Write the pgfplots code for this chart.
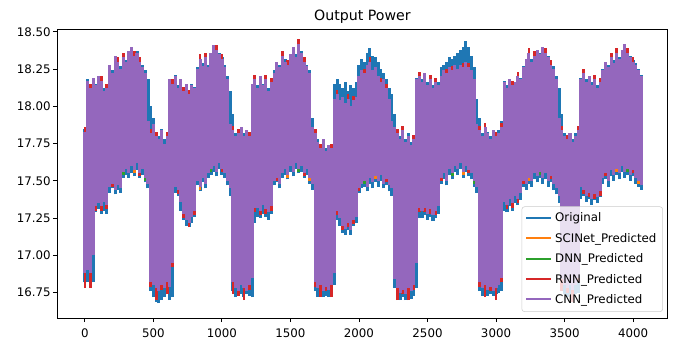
\documentclass[border=0pt]{standalone}
\usepackage{fontspec}
\setmainfont{DejaVu Sans}
\usepackage{pgfplots}
\usepackage{pgfplotstable}
\pgfplotsset{compat=1.18}
\definecolor{c0}{HTML}{1F77B4}
\definecolor{c1}{HTML}{FF7F0E}
\definecolor{c2}{HTML}{2CA02C}
\definecolor{c3}{HTML}{D62728}
\definecolor{c4}{HTML}{9467BD}
\definecolor{lgframe}{HTML}{CCCCCC}
% Original (oL,oU) and CNN (cL,cU): lower/upper envelope of the dense series
\pgfplotstableread{
x oL oU cL cU
0 16.82 17.85 16.88 17.83
20 16.82 18.18 16.90 18.17
40 16.79 18.14 16.88 18.12
60 16.82 18.18 17.00 18.19
80 17.29 18.15 17.33 18.14
100 17.31 18.19 17.35 18.20
120 17.28 18.18 17.33 18.17
140 17.30 18.12 17.36 18.10
160 17.28 18.13 17.34 18.12
180 17.42 18.27 17.46 18.28
200 17.45 18.24 17.48 18.22
220 17.41 18.33 17.44 18.34
240 17.44 18.31 17.47 18.30
260 17.42 18.27 17.45 18.25
280 17.52 18.32 17.56 18.33
300 17.54 18.31 17.58 18.30
320 17.52 18.36 17.55 18.37
340 17.55 18.39 17.60 18.40
360 17.53 18.36 17.57 18.34
380 17.57 18.37 17.62 18.36
400 17.52 18.33 17.55 18.30
420 17.54 18.28 17.58 18.26
440 17.49 18.24 17.52 18.22
460 17.45 18.18 17.48 17.90
480 16.76 18.00 16.82 17.82
500 16.72 17.92 16.80 17.88
520 16.69 17.82 16.78 17.80
540 16.68 17.80 16.76 17.78
560 16.70 17.85 16.80 17.84
580 16.72 17.78 16.78 17.75
600 16.74 17.82 16.82 17.80
620 16.70 18.17 16.79 18.18
640 16.72 18.16 16.95 18.15
660 17.42 18.21 17.46 18.20
680 17.40 18.14 17.44 18.12
700 17.30 18.17 17.36 18.18
720 17.24 18.12 17.28 18.10
740 17.20 18.14 17.24 18.15
760 17.19 18.10 17.22 18.08
780 17.22 18.15 17.26 18.14
800 17.26 18.13 17.30 18.12
820 17.47 18.26 17.50 18.25
840 17.43 18.31 17.46 18.32
860 17.49 18.29 17.52 18.27
880 17.45 18.32 17.48 18.33
900 17.52 18.28 17.55 18.26
920 17.54 18.35 17.58 18.36
940 17.56 18.40 17.60 18.41
960 17.53 18.37 17.56 18.38
980 17.58 18.36 17.62 18.35
1000 17.54 18.33 17.58 18.32
1020 17.52 18.28 17.55 18.26
1040 17.47 18.20 17.50 18.18
1060 17.40 18.10 17.45 17.88
1080 16.76 17.95 16.82 17.84
1100 16.72 17.82 16.78 17.80
1120 16.73 17.81 16.76 17.82
1140 16.74 17.85 16.80 17.86
1160 16.72 17.82 16.78 17.80
1180 16.74 17.83 16.76 17.84
1200 16.73 17.82 16.80 17.80
1220 16.72 18.14 16.85 18.15
1240 17.22 18.19 17.32 18.18
1260 17.26 18.14 17.32 18.12
1280 17.25 18.19 17.30 18.20
1300 17.28 18.15 17.34 18.14
1320 17.26 18.17 17.31 18.18
1340 17.24 18.12 17.29 18.10
1360 17.28 18.15 17.33 18.16
1380 17.47 18.24 17.50 18.22
1400 17.49 18.29 17.52 18.30
1420 17.45 18.28 17.48 18.26
1440 17.52 18.33 17.55 18.34
1460 17.54 18.32 17.58 18.30
1480 17.51 18.29 17.54 18.28
1500 17.56 18.34 17.60 18.35
1520 17.53 18.39 17.56 18.40
1540 17.58 18.35 17.62 18.33
1560 17.55 18.41 17.58 18.42
1580 17.56 18.37 17.60 18.36
1600 17.52 18.32 17.55 18.30
1620 17.54 18.28 17.58 18.27
1640 17.48 18.24 17.52 18.22
1660 17.44 17.92 17.48 17.86
1680 16.76 17.84 16.82 17.82
1700 16.72 17.78 16.78 17.76
1720 16.74 17.74 16.80 17.72
1740 16.72 17.77 16.76 17.78
1760 16.73 17.72 16.79 17.70
1780 16.72 17.73 16.77 17.74
1800 16.74 17.75 16.80 17.72
1820 16.80 18.15 16.88 18.05
1840 17.24 18.18 17.30 18.08
1860 17.20 18.15 17.25 18.04
1880 17.15 18.12 17.20 18.06
1900 17.14 18.16 17.18 18.02
1920 17.17 18.10 17.22 18.05
1940 17.14 18.14 17.17 18.00
1960 17.20 18.12 17.24 18.04
1980 17.22 18.16 17.26 18.06
2000 17.42 18.28 17.45 18.20
2020 17.45 18.32 17.48 18.24
2040 17.46 18.30 17.50 18.22
2060 17.43 18.36 17.46 18.28
2080 17.48 18.39 17.52 18.30
2100 17.45 18.34 17.49 18.24
2120 17.49 18.33 17.53 18.26
2140 17.46 18.30 17.50 18.20
2160 17.50 18.25 17.54 18.16
2180 17.45 18.22 17.48 18.18
2200 17.47 18.18 17.51 18.12
2220 17.43 18.12 17.47 18.05
2240 17.40 18.08 17.45 17.90
2260 16.78 17.95 16.84 17.86
2280 16.72 17.84 16.78 17.82
2300 16.70 17.80 16.75 17.78
2320 16.72 17.83 16.77 17.84
2340 16.70 17.78 16.74 17.76
2360 16.72 17.82 16.78 17.80
2380 16.71 17.76 16.76 17.74
2400 16.73 17.80 16.80 17.78
2420 16.78 18.19 16.95 18.18
2440 17.25 18.21 17.32 18.20
2460 17.25 18.18 17.30 18.16
2480 17.27 18.21 17.32 18.22
2500 17.24 18.16 17.28 18.14
2520 17.26 18.19 17.31 18.18
2540 17.23 18.14 17.27 18.12
2560 17.25 18.17 17.30 18.16
2580 17.28 18.16 17.33 18.14
2600 17.48 18.26 17.52 18.20
2620 17.51 18.28 17.55 18.24
2640 17.47 18.30 17.50 18.22
2660 17.54 18.33 17.58 18.26
2680 17.51 18.32 17.55 18.24
2700 17.56 18.34 17.60 18.28
2720 17.54 18.36 17.58 18.25
2740 17.58 18.38 17.62 18.28
2760 17.52 18.40 17.56 18.26
2780 17.56 18.44 17.60 18.30
2800 17.53 18.40 17.57 18.26
2820 17.51 18.34 17.55 18.24
2840 17.46 18.26 17.50 18.18
2860 17.42 18.05 17.46 17.88
2880 16.76 17.92 16.82 17.84
2900 16.73 17.82 16.78 17.80
2920 16.74 17.85 16.80 17.86
2940 16.73 17.83 16.77 17.82
2960 16.74 17.80 16.79 17.78
2980 16.73 17.83 16.76 17.84
3000 16.74 17.82 16.78 17.80
3020 16.75 17.84 16.80 17.82
3040 16.76 17.90 16.85 17.86
3060 17.30 18.17 17.36 18.16
3080 17.29 18.14 17.34 18.12
3100 17.33 18.17 17.38 18.18
3120 17.30 18.16 17.35 18.14
3140 17.35 18.15 17.40 18.16
3160 17.34 18.19 17.38 18.20
3180 17.37 18.19 17.42 18.18
3200 17.46 18.27 17.50 18.26
3220 17.44 18.31 17.48 18.32
3240 17.48 18.35 17.52 18.36
3260 17.46 18.32 17.50 18.30
3280 17.51 18.33 17.55 18.34
3300 17.49 18.37 17.53 18.38
3320 17.52 18.36 17.56 18.35
3340 17.48 18.39 17.52 18.40
3360 17.51 18.37 17.55 18.36
3380 17.46 18.34 17.50 18.33
3400 17.49 18.30 17.53 18.28
3420 17.44 18.27 17.48 18.25
3440 17.41 18.20 17.45 18.18
3460 17.35 18.12 17.40 17.92
3480 16.77 17.95 16.84 17.84
3500 16.74 17.82 16.80 17.80
3520 16.72 17.80 16.78 17.78
3540 16.74 17.81 16.80 17.82
3560 16.72 17.78 16.77 17.76
3580 16.74 17.82 16.80 17.80
3600 16.75 17.86 16.85 17.84
3620 17.38 18.19 17.46 18.18
3640 17.40 18.21 17.44 18.22
3660 17.36 18.18 17.40 18.16
3680 17.38 18.19 17.42 18.20
3700 17.34 18.16 17.38 18.14
3720 17.37 18.17 17.41 18.18
3740 17.35 18.14 17.39 18.12
3760 17.39 18.15 17.43 18.16
3780 17.48 18.25 17.52 18.24
3800 17.51 18.29 17.55 18.30
3820 17.46 18.28 17.50 18.26
3840 17.53 18.32 17.57 18.33
3860 17.50 18.31 17.54 18.29
3880 17.54 18.35 17.58 18.36
3900 17.51 18.33 17.55 18.32
3920 17.56 18.37 17.60 18.38
3940 17.52 18.41 17.56 18.42
3960 17.54 18.37 17.58 18.36
3980 17.50 18.34 17.54 18.33
4000 17.53 18.31 17.57 18.30
4020 17.48 18.29 17.52 18.28
4040 17.46 18.25 17.50 18.24
4060 17.44 18.21 17.47 18.20
}\tabA
% SCINet (sL,sU), DNN (dL,dU), RNN (rL,rU)
\pgfplotstableread{
x sL sU dL dU rL rU
0 16.90 17.79 16.89 17.78 16.78 17.86
40 16.86 18.08 16.89 18.07 16.78 18.15
80 17.35 18.10 17.34 18.09 17.30 18.12
120 17.35 18.13 17.31 18.12 17.30 18.20
160 17.36 18.08 17.35 18.07 17.31 18.15
200 17.46 18.18 17.49 18.17 17.46 18.20
240 17.49 18.26 17.48 18.25 17.49 18.33
280 17.58 18.29 17.54 18.28 17.58 18.36
320 17.57 18.33 17.56 18.32 17.57 18.35
360 17.55 18.30 17.58 18.29 17.59 18.37
400 17.57 18.26 17.56 18.25 17.53 18.33
440 17.54 18.18 17.50 18.17 17.54 18.20
480 16.84 17.78 16.83 17.77 16.79 17.85
520 16.76 17.76 16.79 17.75 16.70 17.83
560 16.82 17.80 16.81 17.79 16.77 17.82
600 16.84 17.76 16.80 17.75 16.74 17.83
640 16.97 18.11 16.96 18.10 16.92 18.18
680 17.42 18.08 17.45 18.07 17.41 18.10
720 17.30 18.06 17.29 18.05 17.25 18.13
760 17.24 18.04 17.20 18.03 17.19 18.11
800 17.32 18.08 17.31 18.07 17.27 18.10
840 17.44 18.28 17.47 18.27 17.48 18.35
880 17.50 18.29 17.49 18.28 17.50 18.36
920 17.60 18.32 17.56 18.31 17.60 18.34
960 17.58 18.34 17.57 18.33 17.58 18.41
1000 17.56 18.28 17.59 18.27 17.56 18.35
1040 17.52 18.14 17.51 18.13 17.52 18.16
1080 16.84 17.80 16.80 17.79 16.74 17.87
1120 16.78 17.78 16.77 17.77 16.73 17.85
1160 16.76 17.76 16.79 17.75 16.70 17.78
1200 16.82 17.76 16.81 17.75 16.77 17.83
1240 17.34 18.14 17.30 18.13 17.29 18.21
1280 17.32 18.16 17.31 18.15 17.27 18.18
1320 17.29 18.14 17.32 18.13 17.28 18.21
1360 17.35 18.12 17.34 18.11 17.30 18.19
1400 17.54 18.26 17.50 18.25 17.50 18.28
1440 17.57 18.30 17.56 18.29 17.57 18.37
1480 17.52 18.24 17.55 18.23 17.56 18.31
1520 17.58 18.36 17.57 18.35 17.58 18.38
1560 17.60 18.38 17.56 18.37 17.60 18.45
1600 17.57 18.26 17.56 18.25 17.53 18.33
1640 17.50 18.18 17.53 18.17 17.54 18.20
1680 16.84 17.78 16.83 17.77 16.79 17.85
1720 16.82 17.68 16.78 17.67 16.72 17.75
1760 16.81 17.66 16.80 17.65 16.76 17.68
1800 16.78 17.68 16.81 17.67 16.72 17.75
1840 17.32 18.04 17.31 18.03 17.27 18.11
1880 17.22 18.02 17.18 18.01 17.17 18.04
1920 17.24 18.01 17.23 18.00 17.19 18.08
1960 17.22 18.00 17.25 17.99 17.21 18.07
2000 17.47 18.16 17.46 18.15 17.43 18.18
2040 17.52 18.18 17.48 18.17 17.52 18.25
2080 17.54 18.26 17.53 18.25 17.54 18.33
2120 17.51 18.22 17.54 18.21 17.55 18.24
2160 17.56 18.12 17.55 18.11 17.56 18.19
2200 17.53 18.08 17.49 18.07 17.49 18.15
2240 17.47 17.86 17.46 17.85 17.47 17.88
2280 16.76 17.78 16.79 17.77 16.70 17.85
2320 16.79 17.80 16.78 17.79 16.74 17.87
2360 16.80 17.76 16.76 17.75 16.70 17.78
2400 16.82 17.74 16.81 17.73 16.77 17.81
2440 17.30 18.16 17.33 18.15 17.29 18.23
2480 17.34 18.18 17.33 18.17 17.29 18.20
2520 17.33 18.14 17.29 18.13 17.28 18.21
2560 17.32 18.12 17.31 18.11 17.27 18.19
2600 17.50 18.16 17.53 18.15 17.50 18.18
2640 17.52 18.18 17.51 18.17 17.52 18.25
2680 17.57 18.20 17.53 18.19 17.57 18.27
2720 17.60 18.21 17.59 18.20 17.60 18.23
2760 17.54 18.22 17.57 18.21 17.58 18.29
2800 17.59 18.22 17.58 18.21 17.55 18.29
2840 17.52 18.14 17.48 18.13 17.52 18.16
2880 16.84 17.80 16.83 17.79 16.79 17.87
2920 16.78 17.82 16.81 17.81 16.72 17.89
2960 16.81 17.74 16.80 17.73 16.76 17.76
3000 16.80 17.76 16.76 17.75 16.70 17.83
3040 16.87 17.82 16.86 17.81 16.82 17.89
3080 17.32 18.08 17.35 18.07 17.31 18.10
3120 17.37 18.10 17.36 18.09 17.32 18.17
3160 17.40 18.16 17.36 18.15 17.35 18.23
3200 17.52 18.22 17.51 18.21 17.48 18.24
3240 17.50 18.32 17.53 18.31 17.54 18.39
3280 17.57 18.30 17.56 18.29 17.57 18.37
3320 17.58 18.31 17.54 18.30 17.58 18.33
3360 17.57 18.32 17.56 18.31 17.57 18.39
3400 17.51 18.24 17.54 18.23 17.51 18.31
3440 17.47 18.14 17.46 18.13 17.47 18.16
3480 16.86 17.80 16.82 17.79 16.76 17.87
3520 16.80 17.74 16.79 17.73 16.75 17.81
3560 16.75 17.72 16.78 17.71 16.69 17.74
3600 16.87 17.80 16.86 17.79 16.82 17.87
3640 17.46 18.18 17.42 18.17 17.41 18.25
3680 17.44 18.16 17.43 18.15 17.39 18.18
3720 17.39 18.14 17.42 18.13 17.38 18.21
3760 17.45 18.12 17.44 18.11 17.40 18.19
3800 17.57 18.26 17.53 18.25 17.53 18.28
3840 17.59 18.29 17.58 18.28 17.59 18.36
3880 17.56 18.32 17.59 18.31 17.60 18.39
3920 17.62 18.34 17.61 18.33 17.62 18.36
3960 17.60 18.32 17.56 18.31 17.60 18.39
4000 17.59 18.26 17.58 18.25 17.55 18.33
4040 17.48 18.20 17.51 18.19 17.52 18.22
}\tabB
\begin{document}
\begin{tikzpicture}
\path[use as bounding box] (-41.04pt,-18.72pt) rectangle (448.56pt,229.0pt);
\begin{axis}[
  at={(0,0)}, anchor=south west,
  scale only axis, width=439.9pt, height=208.1pt,
  xmin=-204, xmax=4255, ymin=16.580, ymax=18.518,
  xtick={0,500,...,4000},
  ytick={16.75,17.00,17.25,17.50,17.75,18.00,18.25,18.50},
  /pgf/number format/assume math mode=true,
  /pgf/number format/set thousands separator={},
  tick label style={font=\fontsize{8.5}{10}\selectfont},
  yticklabel style={xshift=2pt, /pgf/number format/.cd, fixed, fixed zerofill, precision=2},
  xticklabel style={yshift=-1.5pt},
  tick align=outside, tick pos=left,
  major tick length=3pt,
  every tick/.style={black, line width=0.7pt},
  axis line style={black, line width=0.7pt},
  title={Output Power},
  title style={font=\fontsize{10.2}{12}\selectfont, yshift=-5.5pt},
  legend cell align=left,
  legend style={at={(rel axis cs:0.9918,0.021)}, anchor=south east,
    draw=lgframe, fill=white, fill opacity=0.8, text opacity=1,
    rounded corners=2pt, font=\fontsize{8.5}{10}\selectfont,
    row sep=2.7pt, inner xsep=2.5pt, inner ysep=2.5pt},
  legend image code/.code={\draw[line width=1.5pt] (0pt,0.4pt) -- (18pt,0.4pt);},
]
\addplot[forget plot, draw=none, mark=none,
  error bars/.cd, y dir=plus, y explicit, error mark=none,
  error bar style={draw=c0, line width=2.2pt}]
  table[x=x, y=oL, y error expr=\thisrow{oU}-\thisrow{oL}] {\tabA};
\addplot[forget plot, draw=none, mark=none,
  error bars/.cd, y dir=plus, y explicit, error mark=none,
  error bar style={draw=c1, line width=2.0pt}]
  table[x=x, y=sL, y error expr=\thisrow{sU}-\thisrow{sL}] {\tabB};
\addplot[forget plot, draw=none, mark=none,
  error bars/.cd, y dir=plus, y explicit, error mark=none,
  error bar style={draw=c2, line width=2.0pt}]
  table[x=x, y=dL, y error expr=\thisrow{dU}-\thisrow{dL}] {\tabB};
\addplot[forget plot, draw=none, mark=none,
  error bars/.cd, y dir=plus, y explicit, error mark=none,
  error bar style={draw=c3, line width=2.0pt}]
  table[x=x, y=rL, y error expr=\thisrow{rU}-\thisrow{rL}] {\tabB};
\addplot[forget plot, draw=none, mark=none,
  error bars/.cd, y dir=plus, y explicit, error mark=none,
  error bar style={draw=c4, line width=2.2pt}]
  table[x=x, y=cL, y error expr=\thisrow{cU}-\thisrow{cL}] {\tabA};
\addlegendimage{draw=c0}\addlegendentry{Original}
\addlegendimage{draw=c1}\addlegendentry{SCINet\_Predicted}
\addlegendimage{draw=c2}\addlegendentry{DNN\_Predicted}
\addlegendimage{draw=c3}\addlegendentry{RNN\_Predicted}
\addlegendimage{draw=c4}\addlegendentry{CNN\_Predicted}
\end{axis}
\end{tikzpicture}
\end{document}
